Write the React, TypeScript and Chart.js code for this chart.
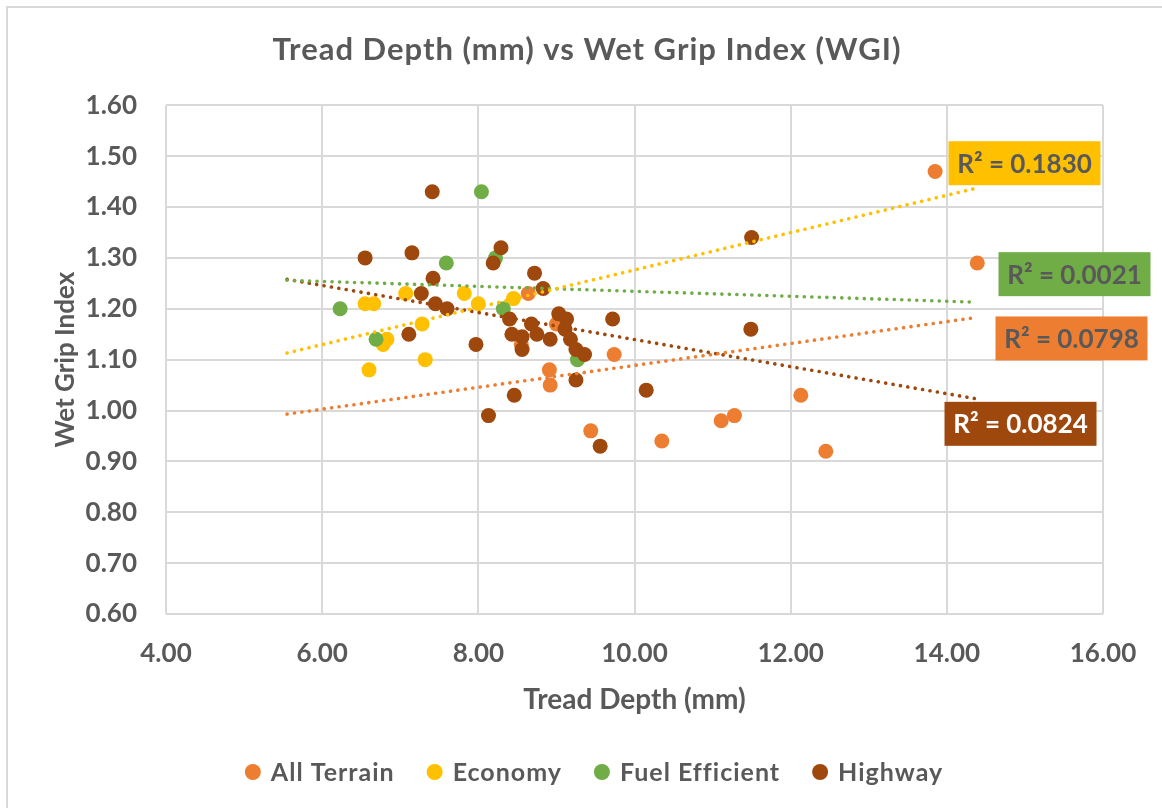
import React, { useEffect, useRef } from "react";
import { Chart, registerables } from "chart.js";
Chart.register(...registerables);

const chartTitle = "Tread Depth (mm) vs Wet Grip Index (WGI)";
const xTitle = "Tread Depth (mm)";
const yTitle = "Wet Grip Index";
const seriesNames = ["All Terrain", "Economy", "Fuel Efficient", "Highway"];
const seriesColors = ["#ED7D31", "#FFC000", "#70AD47", "#9E480E"];

const allTerrainX = [8.64, 9.0, 8.55, 9.74, 8.91, 8.92, 9.44, 10.35, 11.11, 11.28, 12.13, 12.45, 13.85, 14.39];
const allTerrainY = [1.23, 1.17, 1.13, 1.11, 1.08, 1.05, 0.96, 0.94, 0.98, 0.99, 1.03, 0.92, 1.47, 1.29];

const economyX = [6.55, 6.66, 7.07, 7.82, 8.0, 8.45, 7.28, 6.83, 6.78, 7.32, 6.6];
const economyY = [1.21, 1.21, 1.23, 1.23, 1.21, 1.22, 1.17, 1.14, 1.13, 1.1, 1.08];

const fuelX = [6.23, 6.69, 7.59, 8.04, 8.22, 8.32, 9.27];
const fuelY = [1.2, 1.14, 1.29, 1.43, 1.3, 1.2, 1.1];

const highwayX = [6.55, 7.15, 7.41, 7.42, 7.27, 7.45, 7.6, 7.11, 7.97, 8.13, 8.19, 8.29, 8.72, 8.83, 8.4, 8.43, 8.56, 8.56, 8.68, 8.75, 8.92, 9.03, 9.13, 9.11, 9.18, 9.25, 9.36, 9.25, 8.46, 9.56, 9.72, 10.15, 11.5, 11.49];
const highwayY = [1.3, 1.31, 1.43, 1.26, 1.23, 1.21, 1.2, 1.15, 1.13, 0.99, 1.29, 1.32, 1.27, 1.24, 1.18, 1.15, 1.145, 1.12, 1.17, 1.15, 1.14, 1.19, 1.18, 1.16, 1.14, 1.12, 1.11, 1.06, 1.03, 0.93, 1.18, 1.04, 1.34, 1.16];

const trendX = [5.55, 14.38];
const allTerrainTrend = [0.993, 1.183];
const economyTrend = [1.113, 1.437];
const fuelTrend = [1.256, 1.213];
const highwayTrend = [1.258, 1.023];
const rSquared = ["0.0798", "0.1830", "0.0021", "0.0824"];

const xMin = 4, xMax = 16, xStep = 2;
const yMin = 0.6, yMax = 1.6, yStep = 0.1;

const FONT = "Lato, 'Open Sans', sans-serif";
const GRAY = "#595959";

const pts = (xs: number[], ys: number[]) => xs.map((x, i) => ({ x, y: ys[i] }));

// label box offsets relative to the end point of each trendline (px)
const labelOffsets = [
  { dx: 19, dy: -1 },
  { dx: -28, dy: -47 },
  { dx: 22, dy: -50 },
  { dx: -32, dy: 3 },
];
const labelTextColors = [GRAY, GRAY, GRAY, "#FFFFFF"];

const setSpacing = (ctx: any, v: string) => {
  if ("letterSpacing" in ctx) ctx.letterSpacing = v;
};

const titlePlugin = {
  id: "customTitle",
  afterDraw(chart: any) {
    const ctx = chart.ctx;
    ctx.save();
    ctx.font = `bold 31px ${FONT}`;
    setSpacing(ctx, "1px");
    ctx.fillStyle = GRAY;
    ctx.textAlign = "center";
    ctx.textBaseline = "middle";
    ctx.fillText(chartTitle, 579, 42);
    setSpacing(ctx, "0px");
    ctx.restore();
  },
};

const rLabelPlugin = {
  id: "rLabels",
  afterDatasetsDraw(chart: any) {
    const ctx = chart.ctx;
    ctx.save();
    for (let s = 0; s < 4; s++) {
      const meta = chart.getDatasetMeta(4 + s);
      const end = meta.data[meta.data.length - 1];
      if (!end) continue;
      const w = 152, h = 44;
      const left = end.x + labelOffsets[s].dx;
      const top = end.y + labelOffsets[s].dy;
      ctx.fillStyle = seriesColors[s];
      ctx.fillRect(left, top, w, h);
      ctx.fillStyle = labelTextColors[s];
      ctx.font = `bold 26px ${FONT}`;
      ctx.textAlign = "center";
      ctx.textBaseline = "middle";
      ctx.fillText(`R² = ${rSquared[s]}`, left + w / 2, top + h / 2 + 1);
    }
    ctx.restore();
  },
};

const legendPlugin = {
  id: "customLegend",
  afterDraw(chart: any) {
    const ctx = chart.ctx;
    ctx.save();
    ctx.font = `bold 25px ${FONT}`;
    setSpacing(ctx, "1px");
    const r = 8, gapText = 10, gapItem = 32;
    const widths = seriesNames.map((n) => ctx.measureText(n).width);
    let total = 0;
    widths.forEach((w, i) => {
      total += 2 * r + gapText + w + (i < widths.length - 1 ? gapItem : 0);
    });
    const cy = 764;
    let x = 586 - total / 2;
    ctx.textBaseline = "middle";
    ctx.textAlign = "left";
    seriesNames.forEach((n, i) => {
      ctx.fillStyle = seriesColors[i];
      ctx.beginPath();
      ctx.arc(x + r, cy, r, 0, Math.PI * 2);
      ctx.fill();
      ctx.fillStyle = GRAY;
      ctx.fillText(n, x + 2 * r + gapText, cy + 1);
      x += 2 * r + gapText + widths[i] + gapItem;
    });
    setSpacing(ctx, "0px");
    ctx.restore();
  },
};

export default function App() {
  const ref = useRef<HTMLCanvasElement>(null);
  useEffect(() => {
    document.body.style.overflow = "hidden";
    const scatterData = [
      pts(allTerrainX, allTerrainY),
      pts(economyX, economyY),
      pts(fuelX, fuelY),
      pts(highwayX, highwayY),
    ];
    const trends = [allTerrainTrend, economyTrend, fuelTrend, highwayTrend];
    const datasets: any[] = [];
    scatterData.forEach((d, i) => {
      datasets.push({
        type: "scatter",
        label: seriesNames[i],
        data: d,
        backgroundColor: seriesColors[i],
        borderColor: seriesColors[i],
        borderWidth: 0,
        pointRadius: 7.5,
        order: 4 - i,
      });
    });
    trends.forEach((t, i) => {
      datasets.push({
        type: "line",
        label: seriesNames[i] + " trend",
        data: pts(trendX, t),
        borderColor: seriesColors[i],
        borderWidth: 3.6,
        borderDash: [0.1, 7.4],
        borderCapStyle: "round",
        pointRadius: 0,
        fill: false,
        order: 0,
      });
    });
    const chart = new Chart(ref.current!, {
      type: "scatter",
      data: { datasets },
      options: {
        animation: false,
        responsive: false,
        layout: { padding: { left: 0, right: 59, top: 97.3, bottom: 74 } },
        plugins: {
          legend: { display: false },
          tooltip: { enabled: false },
          title: { display: false },
        },
        scales: {
          x: {
            type: "linear",
            min: xMin,
            max: xMax,
            ticks: {
              stepSize: xStep,
              color: GRAY,
              font: { family: FONT, size: 26, weight: "bold" },
              padding: 24,
              callback: (v: any) => Number(v).toFixed(2),
            },
            grid: { color: "#D9D9D9", lineWidth: 2, drawTicks: false },
            border: { display: false },
            title: {
              display: true,
              text: xTitle,
              color: GRAY,
              font: { family: FONT, size: 28, weight: "bold", lineHeight: 1.2 },
              padding: { top: 0, bottom: 17.7 },
            },
            afterFit: (s: any) => {
              s.height = 120;
            },
          },
          y: {
            type: "linear",
            min: yMin,
            max: yMax,
            ticks: {
              stepSize: yStep,
              color: GRAY,
              font: { family: FONT, size: 26, weight: "bold" },
              padding: 29,
              callback: (v: any) => Number(v).toFixed(2),
            },
            grid: { color: "#D9D9D9", lineWidth: 2, drawTicks: false },
            border: { display: false },
            title: {
              display: true,
              text: yTitle,
              color: GRAY,
              font: { family: FONT, size: 26, weight: "bold", lineHeight: 1.2 },
              padding: { top: 42, bottom: 0 },
            },
            afterFit: (s: any) => {
              s.width = 158;
            },
          },
        },
      },
      plugins: [rLabelPlugin, legendPlugin, titlePlugin],
    });
    return () => chart.destroy();
  }, []);
  return (
    <div
      style={{
        position: "absolute",
        left: 6,
        top: 6,
        width: 1180,
        height: 830,
        border: "2px solid #D9D9D9",
        background: "#fff",
      }}
    >
      <canvas ref={ref} width={1154} height={800} style={{ display: "block", width: 1154, height: 800 }} />
    </div>
  );
}
